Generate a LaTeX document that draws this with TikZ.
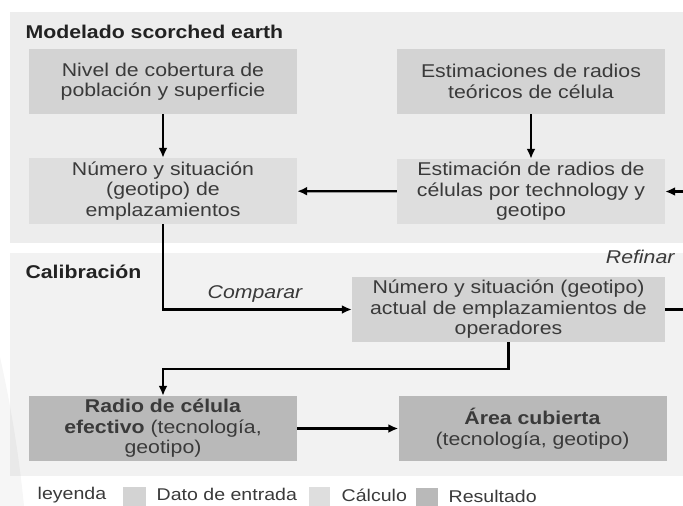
\documentclass[tikz,border=0pt]{standalone}
\usepackage{fontspec}
\setmainfont{Liberation Sans}[FakeStretch=1.15]
\usepackage{tikz}
\usetikzlibrary{calc,arrows.meta}
\usetikzlibrary{positioning}
\definecolor{sc-panel}{HTML}{EDEDED}
\definecolor{sc-panel2}{HTML}{F2F2F2}
\definecolor{sc-input}{HTML}{D3D3D3}
\definecolor{sc-calc}{HTML}{DEDEDE}
\definecolor{sc-result}{HTML}{B9B9B9}
\definecolor{sc-text}{HTML}{3A3A3A}
\definecolor{sc-title}{HTML}{222222}

\begin{document}
\begin{tikzpicture}[x=1pt, y=-1pt, >={Latex[length=10pt, width=9pt]},
    box/.style={minimum width=268pt, minimum height=65pt, inner sep=0pt, align=center,
        text=sc-text, font=\fontsize{18.5}{20.5}\selectfont},
    title/.style={anchor=west, text=sc-title, font=\fontsize{18.5}{20}\selectfont\bfseries},
    tag/.style={text=sc-text, font=\fontsize{18.5}{20}\selectfont\itshape},
    legend/.style={anchor=west, inner sep=0.5pt, text=sc-text, font=\fontsize{17}{19}\selectfont},
    link/.style={->, line width=2.2pt}]
    \useasboundingbox (0,0) rectangle (683,506);

    % Panels
    \fill[sc-panel] (10,12) rectangle (683,243);
    \fill[sc-panel2] (10,253) rectangle (683,476);
    \fill[black, opacity=0.035] (0,357) .. controls (13,415) and (20,465) .. (24,506) -- (0,506) -- cycle;

    \node[title] (tscorch) at (22,32) {Modelado scorched earth};
    \node[title] (tcalib) at (22,272) {Calibración};

    % Scorched earth
    \node[box, fill=sc-input] (cover) at (163,81.5) {Nivel de cobertura de\\población y superficie};
    \node[box, fill=sc-input] (theo) at (531,81.5) {Estimaciones de radios\\teóricos de célula};
    \node[box, fill=sc-calc, minimum height=66pt] (sites) at (163,191) {Número y situación\\(geotipo) de\\emplazamientos};
    \node[box, fill=sc-calc] (radii) at (531,191.5) {Estimación de radios de\\células por technology y\\geotipo};

    % Calibration
    \node[box, fill=sc-input, minimum width=313pt] (actual) at (508.5,309.5) {Número y situación (geotipo)\\actual de emplazamientos de\\operadores};
    \node[box, fill=sc-result] (eff) at (163,428.5) {\textbf{Radio de célula}\\\textbf{efectivo} (tecnología,\\geotipo)};
    \node[box, fill=sc-result] (area) at (532.5,428.5) {\textbf{Área cubierta}\\(tecnología, geotipo)};

    \coordinate (refin) at (683,191.5);
    \coordinate (refout) at (683,309.5);

    % Connections
    \draw[link] (cover) -- (sites);
    \draw[link] (theo) -- (radii);
    \draw[link] (radii) -- (sites);
    \draw[link] (refin) -- (radii);
    \draw[link] (sites.south) |- (actual.west);
    \draw[line width=2.2pt] (actual) -- (refout);
    \draw[link] (actual.south) -- ++(0,26.5) -| (eff.north);
    \draw[link] (eff) -- (area);

    \node[tag] (cmp) at (255,294) {Comparar};
    \node[tag, anchor=east] (ref) at (678,257) {Refinar};

    % Legend
    \node[legend] (ley) at (37,495) {leyenda};
    \fill[sc-input] (123,487) rectangle (146,506);
    \node[legend] (lin) at (156,494.5) {Dato de entrada};
    \fill[sc-calc] (309,487) rectangle (330,506);
    \node[legend] (lcal) at (341,495) {Cálculo};
    \fill[sc-result] (416,488) rectangle (438,506);
    \node[legend] (lres) at (448,496.5) {Resultado};
\end{tikzpicture}
\end{document}
